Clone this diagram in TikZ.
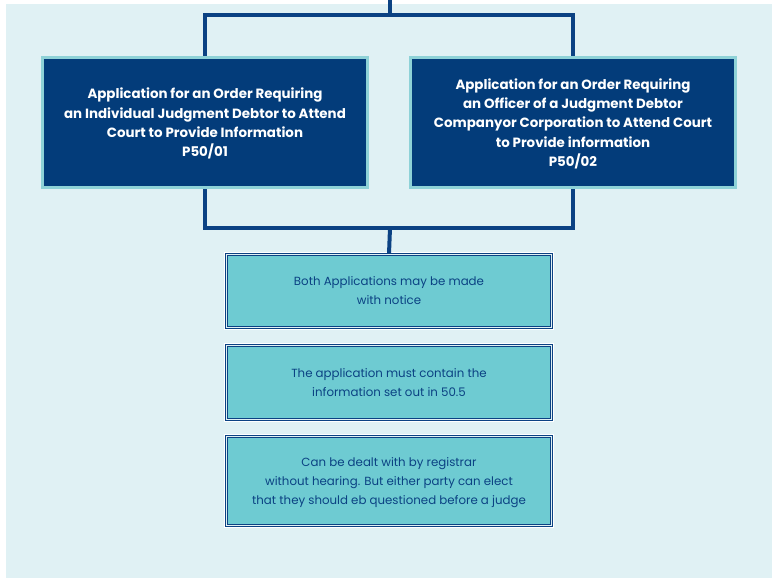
\documentclass[tikz,border=0pt]{standalone}
\usepackage{fontspec}
\setmainfont{Poppins}
\usepackage{tikz}
\usetikzlibrary{positioning,calc}
\definecolor{bgblue}{HTML}{E0F1F4}
\definecolor{navy}{HTML}{033C7A}
\definecolor{linenavy}{HTML}{0B4283}
\definecolor{lightrim}{HTML}{8ED2D7}
\definecolor{tealfill}{HTML}{6ECBD2}

\begin{document}
\begin{tikzpicture}[
  x=1pt, y=-1pt,
  formbox/.style={draw=lightrim, line width=3pt, fill=navy, text=white, minimum width=325pt, minimum height=130pt, text depth=-2pt, align=center, font=\fontsize{13.4}{19.3}\selectfont\bfseries},
  notebox/.style={preaction={draw=white, line width=5pt}, draw=linenavy, double=bgblue, double distance=0.8pt, line width=1.2pt, fill=tealfill, text=linenavy, minimum width=325pt, text depth=-5pt, align=center, font=\fontsize{11.8}{19}\selectfont},
  conn/.style={draw=linenavy, line width=4pt}
]
\useasboundingbox (0,0) rectangle (779,578);
\fill[bgblue] (6,4) rectangle (772,578);

% Form boxes
\node[formbox] (indiv) at (205,122.5) {Application for an Order Requiring\\an Individual Judgment Debtor to Attend\\Court to Provide Information\\P50/01};
\node[formbox] (officer) at (573,122.5) {Application for an Order Requiring\\an Officer of a Judgment Debtor\\Companyor Corporation to Attend Court\\to Provide information\\P50/02};

% Notes
\node[notebox, minimum height=73pt] (notice) at (389,291) {Both Applications may be made\\with notice};
\node[notebox, minimum height=74pt] (content) at (389,382.5) {The application must contain the\\information set out in 50.5};
\node[notebox, minimum height=89pt] (hearing) at (389,481) {Can be dealt with by registrar\\without hearing. But either party can elect\\that they should eb questioned before a judge};

% Connectors
\coordinate (top) at (390,0);
\coordinate (split) at (390,15);
\coordinate (join) at (390,228);
\draw[conn] (top) -- (split);
\draw[conn] (split) -| (indiv.north);
\draw[conn] (split) -| (officer.north);
\draw[conn] (indiv.south) |- (join);
\draw[conn] (officer.south) |- (join);
\draw[conn] (join) -- (notice.north);

\end{tikzpicture}
\end{document}
